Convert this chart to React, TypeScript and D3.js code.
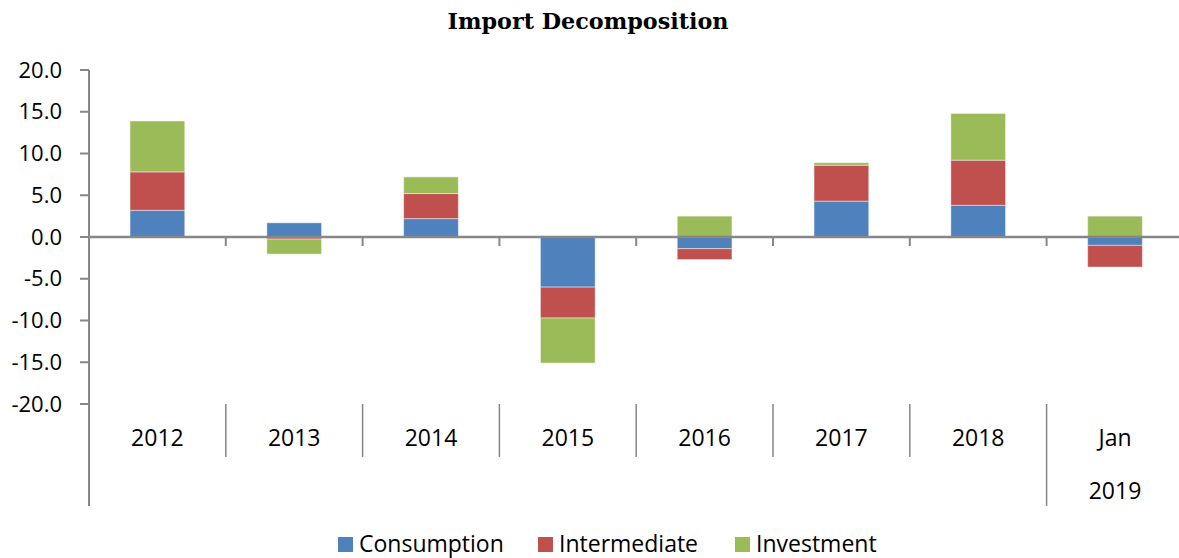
import React from 'react';
import * as d3 from 'd3';

// values (percentage points)
const categories = ['2012', '2013', '2014', '2015', '2016', '2017', '2018', 'Jan'];
const seriesNames = ['Consumption', 'Intermediate', 'Investment'];
const consumption = [3.2, 1.7, 2.2, -6.0, -1.4, 4.3, 3.8, -1.0];
const intermediate = [4.6, -0.25, 3.0, -3.7, -1.3, 4.3, 5.4, -2.6];
const investment = [6.1, -1.8, 2.0, -5.4, 2.5, 0.3, 5.6, 2.5];
const yTicks = [-20, -15, -10, -5, 0, 5, 10, 15, 20];
const colors = ['#4F81BD', '#C0504D', '#9BBB59'];

const W = 1179;
const H = 558;
const margin = {top: 70, left: 89, bottom: 404};
const step = 136.8;

export default function App() {
  const rows = categories.map((c, i) => ({
    cat: c,
    Consumption: consumption[i],
    Intermediate: intermediate[i],
    Investment: investment[i],
  }));

  const stacked = d3.stack<any>()
    .keys(seriesNames)
    .offset(d3.stackOffsetDiverging)(rows);

  const x = d3.scaleBand()
    .domain(categories)
    .range([margin.left, margin.left + step * categories.length])
    .padding(0);

  const y = d3.scaleLinear()
    .domain([-20, 20])
    .range([margin.bottom, margin.top]);

  const barW = x.bandwidth() * 0.4;
  const axisColor = '#878787';
  const font = '"Open Sans", sans-serif';

  const legendX = [338, 538, 735];

  return (
    <div style={{position: 'absolute', left: 0, top: 0}}>
      <svg width={W} height={H} style={{display: 'block', background: '#fff'}}>
        <text x={588} y={29} textAnchor="middle" fontFamily='"DejaVu Serif", serif'
          fontWeight="bold" fontSize={22} textLength={281} lengthAdjust="spacingAndGlyphs" fill="#000">
          Import Decomposition
        </text>

        {/* bars */}
        {stacked.map((s, si) => (
          <g key={s.key} fill={colors[si]}>
            {s.map((d, i) => {
              const y0 = y(Math.max(d[0], d[1]));
              const y1 = y(Math.min(d[0], d[1]));
              if (y1 - y0 <= 0) return null;
              return (
                <rect key={i}
                  x={(x(categories[i]) as number) + (x.bandwidth() - barW) / 2}
                  y={y0} width={barW} height={y1 - y0}
                  stroke="#fff" strokeOpacity={0.45} strokeWidth={1} />
              );
            })}
          </g>
        ))}

        {/* y axis */}
        <line x1={margin.left} x2={margin.left} y1={margin.top} y2={506} stroke={axisColor} strokeWidth={2} />
        {yTicks.map(t => (
          <g key={t}>
            <line x1={margin.left - 9} x2={margin.left} y1={y(t)} y2={y(t)} stroke={axisColor} strokeWidth={2} />
            <text x={62} y={y(t)} dy="0.35em" textAnchor="end" fontFamily={font} fontSize={22} fill="#000">
              {t.toFixed(1)}
            </text>
          </g>
        ))}

        {/* zero line with category ticks */}
        <line x1={margin.left} x2={W} y1={y(0)} y2={y(0)} stroke={axisColor} strokeWidth={2.5} />
        {categories.slice(1).map(c => (
          <line key={c} x1={x(c)} x2={x(c)} y1={y(0)} y2={y(0) + 9} stroke={axisColor} strokeWidth={2} />
        ))}

        {/* category label area */}
        {categories.slice(1).map(c => (
          <line key={c} x1={x(c)} x2={x(c)} y1={margin.bottom} y2={c === 'Jan' ? 506 : 457}
            stroke={axisColor} strokeWidth={1.5} />
        ))}
        {categories.map(c => (
          <text key={c} x={(x(c) as number) + x.bandwidth() / 2} y={438} dy="0.35em" textAnchor="middle"
            fontFamily={font} fontSize={23} fill="#000">
            {c}
          </text>
        ))}
        <text x={(x('Jan') as number) + x.bandwidth() / 2} y={491} dy="0.35em" textAnchor="middle"
          fontFamily={font} fontSize={23} fill="#000">
          2019
        </text>

        {/* legend */}
        {seriesNames.map((n, i) => (
          <g key={n}>
            <rect x={legendX[i]} y={537} width={15} height={15} fill={colors[i]} />
            <text x={legendX[i] + 21} y={544} dy="0.35em" fontFamily={font} fontSize={23} fill="#000">
              {n}
            </text>
          </g>
        ))}
      </svg>
    </div>
  );
}
